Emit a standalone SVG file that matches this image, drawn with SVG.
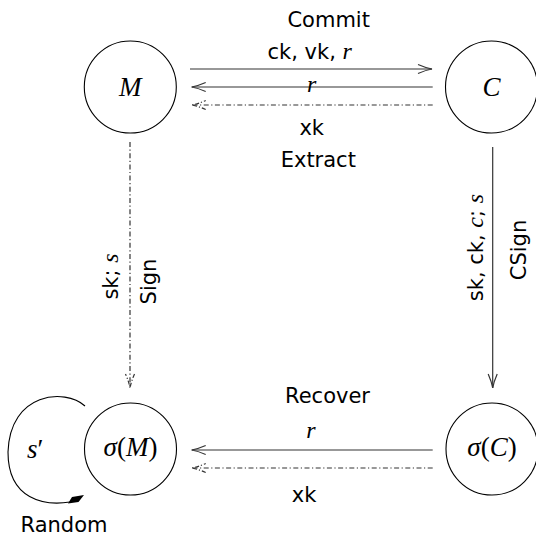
<svg xmlns="http://www.w3.org/2000/svg" width="536" height="536" viewBox="0 0 536 536">
<style>
.node{fill:none;stroke:#000;stroke-width:1.1}
.t{font-family:"DejaVu Sans",sans-serif;font-size:21px;fill:#000}
.m{font-family:"Liberation Serif",serif;font-style:italic;font-size:24px}
.nl{font-family:"Liberation Serif",serif;font-size:27px;fill:#000}
.i{font-style:italic}
.ln{fill:none;stroke:#333;stroke-width:1.2}
.dd{stroke-dasharray:5 2.5 1.2 2.5}
</style>
<defs>
<marker id="ah" viewBox="-16 -6 18 12" refX="0" refY="0" markerWidth="18" markerHeight="12" markerUnits="userSpaceOnUse" orient="auto" overflow="visible">
<path d="M -14 -4.5 Q -6 -1 0 0 Q -6 1 -14 4.5" fill="none" stroke="#333" stroke-width="1.2"/>
</marker>
<marker id="ahd" viewBox="-16 -6 18 12" refX="0" refY="0" markerWidth="18" markerHeight="12" markerUnits="userSpaceOnUse" orient="auto" overflow="visible">
<path d="M -14 -4.5 Q -6 -1 0 0 Q -6 1 -14 4.5" fill="none" stroke="#333" stroke-width="1.2" stroke-dasharray="4 2 1.2 2"/>
</marker>
</defs>
<g id="node-M">
<circle class="node" cx="130.3" cy="87" r="46"/>
<text class="nl" x="130.3" y="95.5" text-anchor="middle"><tspan class="i">M</tspan></text>
</g>
<g id="node-C">
<circle class="node" cx="491.5" cy="87" r="46"/>
<text class="nl" x="491.5" y="95.5" text-anchor="middle"><tspan class="i">C</tspan></text>
</g>
<g id="node-sigmaM">
<circle class="node" cx="130.5" cy="449" r="46"/>
<text class="nl" x="130.5" y="455.5" text-anchor="middle"><tspan class="i">σ</tspan>(<tspan class="i">M</tspan>)</text>
</g>
<g id="node-sigmaC">
<circle class="node" cx="492" cy="449" r="46"/>
<text class="nl" x="492" y="455.5" text-anchor="middle"><tspan class="i">σ</tspan>(<tspan class="i">C</tspan>)</text>
</g>
<g id="connectors">
<line class="ln" x1="190" y1="69" x2="432" y2="69" marker-end="url(#ah)"/>
<line class="ln" x1="432.7" y1="87" x2="191.7" y2="87" marker-end="url(#ah)"/>
<line class="ln dd" x1="432.7" y1="105" x2="191.7" y2="105" marker-end="url(#ahd)"/>
<line class="ln dd" x1="130" y1="142" x2="130" y2="388" marker-end="url(#ahd)"/>
<line class="ln" x1="492.7" y1="147" x2="492.7" y2="388" marker-end="url(#ah)"/>
<line class="ln" x1="432.7" y1="450" x2="191.7" y2="450" marker-end="url(#ah)"/>
<line class="ln dd" x1="432.7" y1="468" x2="191.7" y2="468" marker-end="url(#ahd)"/>
<path class="node" d="M 85 406 C 65 388, 10 392, 8 452 C 8 500, 45 506, 70 502"/>
<polygon points="68,503.5 72,497 84,495 78.5,502" fill="#000"/>
<text class="t" x="328.7" y="27" text-anchor="middle">Commit</text>
<text class="t" x="309.7" y="59" text-anchor="middle">ck, vk, <tspan class="m">r</tspan></text>
<text class="m" x="311.7" y="91.5" text-anchor="middle">r</text>
<text class="t" x="311.7" y="135" text-anchor="middle">xk</text>
<text class="t" x="318.3" y="166.7" text-anchor="middle">Extract</text>
<text class="t" transform="translate(118,276.5) rotate(-90)" text-anchor="middle">sk; <tspan class="m">s</tspan></text>
<text class="t" transform="translate(156,281.5) rotate(-90)" text-anchor="middle">Sign</text>
<text class="t" transform="translate(483,247.5) rotate(-90)" text-anchor="middle">sk, ck, <tspan class="m">c</tspan>; <tspan class="m">s</tspan></text>
<text class="t" transform="translate(526,250) rotate(-90)" text-anchor="middle">CSign</text>
<text class="t" x="327.5" y="403.3" text-anchor="middle">Recover</text>
<text class="m" x="311" y="438" text-anchor="middle">r</text>
<text class="t" x="304" y="501.7" text-anchor="middle">xk</text>
<text class="nl" x="35" y="458"><tspan class="i" x="27">s</tspan>′</text>
<text class="t" x="64" y="531.5" text-anchor="middle">Random</text>
</g>
</svg>
